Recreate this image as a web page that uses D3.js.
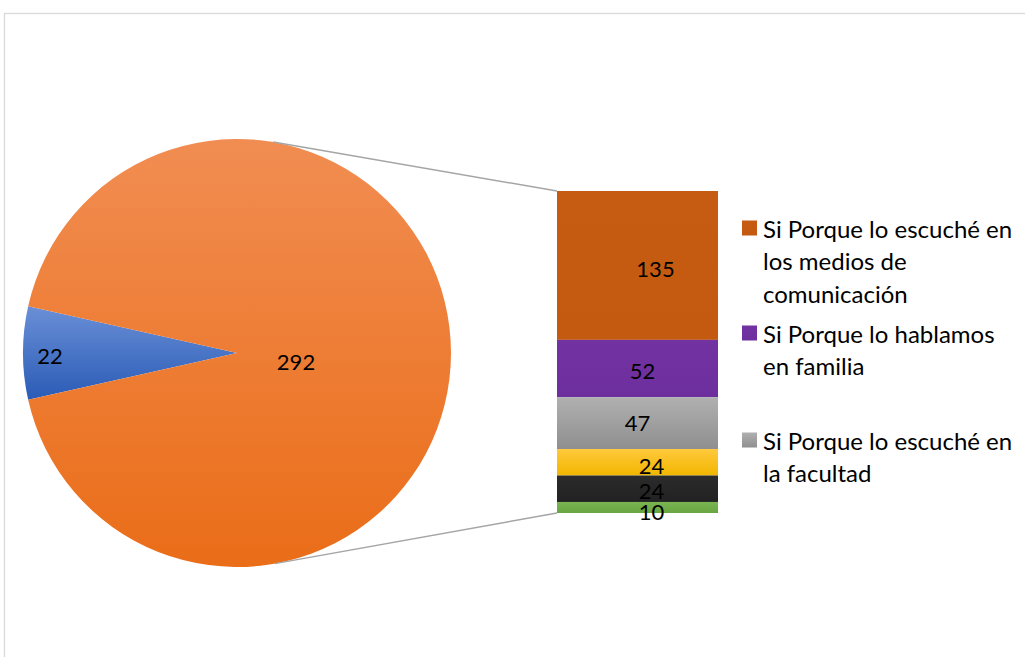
<!DOCTYPE html>
<html>
<head>
<meta charset="utf-8">
<script src="https://cdn.jsdelivr.net/npm/d3@7"></script>
<style>
  html, body { margin: 0; padding: 0; background: #fff; }
  svg { display: block; }
  text { font-family: Lato, "Open Sans", sans-serif; fill: #000; }
</style>
</head>
<body>
<svg id="chart" width="1025" height="657"></svg>
<script>
// Pie: answered "No" vs. the grouped "Si" answers
const pieLabels = ["No", "Si"];
const pieValues = [22, 292];

// Breakdown of the "Si" slice
const barLabels = [
  "Si Porque lo escuché en los medios de comunicación",
  "Si Porque lo hablamos en familia",
  "Si Porque lo escuché en la facultad",
  "Si Porque lo escuché en la radio",
  "Si Porque lo escuché en redes",
  "Si Otro"
];
const barValues = [135, 52, 47, 24, 24, 10];

// Legend lines (only the first three entries are shown)
const legendLines = [
  ["Si Porque lo escuché en", "los medios de", "comunicación"],
  ["Si Porque lo hablamos", "en familia"],
  ["Si Porque lo escuché en", "la facultad"]
];

const svg = d3.select("#chart");
const defs = svg.append("defs");

function vGradient(id, top, bottom) {
  const g = defs.append("linearGradient").attr("id", id)
    .attr("x1", 0).attr("y1", 0).attr("x2", 0).attr("y2", 1);
  g.append("stop").attr("offset", "0%").attr("stop-color", top);
  g.append("stop").attr("offset", "100%").attr("stop-color", bottom);
  return `url(#${id})`;
}

const pieFills = [
  vGradient("gBlue", "#6a8fd6", "#2a5bb6"),
  vGradient("gOrange", "#f18d52", "#ea6d18")
];
const barFills = [
  vGradient("gB0", "#c65b12", "#c45a10"),
  vGradient("gB1", "#7232a2", "#6e2f9e"),
  vGradient("gB2", "#b0b0b0", "#8f8f8f"),
  vGradient("gB3", "#ffc93c", "#f2b600"),
  vGradient("gB4", "#2b2b2b", "#222222"),
  vGradient("gB5", "#7ab551", "#68a53f")
];

// Frame
svg.append("rect")
  .attr("x", 4.5).attr("y", 13.5)
  .attr("width", 1100).attr("height", 700)
  .attr("fill", "none").attr("stroke", "#d9d9d9").attr("stroke-width", 1.3);

// ---- Pie ----
const cx = 237, cy = 353, r = 214;
const total = d3.sum(pieValues);
const firstSpan = pieValues[0] / total * 2 * Math.PI;
const start = 1.5 * Math.PI - firstSpan / 2;

const pie = d3.pie().sort(null).startAngle(start).endAngle(start + 2 * Math.PI);
const arcs = pie(pieValues);
const arc = d3.arc().innerRadius(0).outerRadius(r);

const pg = svg.append("g").attr("transform", `translate(${cx},${cy})`);
pg.selectAll("path").data(arcs).enter().append("path")
  .attr("d", arc)
  .attr("fill", (d, i) => pieFills[i]);

// Pie labels
const pieLabelPos = [[50, 355], [296, 361]];
pg.selectAll("text.pl").data(arcs).enter().append("text")
  .attr("class", "pl")
  .attr("x", (d, i) => pieLabelPos[i][0] - cx)
  .attr("y", (d, i) => pieLabelPos[i][1] - cy)
  .attr("text-anchor", "middle").attr("dominant-baseline", "central")
  .attr("font-size", 22)
  .text(d => d.value);

// ---- Stacked bar ----
const barX0 = 557, barX1 = 718;
const y = d3.scaleLinear().domain([0, d3.sum(barValues)]).range([513, 191]);

let acc = d3.sum(barValues);
const segs = barValues.map((v, i) => {
  const top = acc; acc -= v;
  return { value: v, top: top, bottom: acc, i: i };
});

const bg = svg.append("g");
bg.selectAll("rect").data(segs).enter().append("rect")
  .attr("x", barX0)
  .attr("y", d => y(d.top))
  .attr("width", barX1 - barX0)
  .attr("height", d => y(d.bottom) - y(d.top))
  .attr("fill", d => barFills[d.i]);

// label nudges along x, and vertical adjustments for the thin segments
const labelDx = [18, 5, 0, 14, 14, 14];
const labelDy = [3, 2, -1, 3, 1.5, 4];
bg.selectAll("text").data(segs).enter().append("text")
  .attr("x", d => (barX0 + barX1) / 2 + labelDx[d.i])
  .attr("y", d => (y(d.top) + y(d.bottom)) / 2 + labelDy[d.i])
  .attr("text-anchor", "middle").attr("dominant-baseline", "central")
  .attr("font-size", 22)
  .text(d => d.value);

// ---- Connector lines (tangents from bar corners to the pie) ----
function tangentPoint(px, py, upper) {
  const dx = px - cx, dy = py - cy;
  const d = Math.hypot(dx, dy);
  const base = Math.atan2(dy, dx);
  const off = Math.acos(r / d);
  const a = upper ? base - off : base + off;
  return [cx + r * Math.cos(a), cy + r * Math.sin(a)];
}
const corners = [[barX0, y(d3.sum(barValues)), true], [barX0, y(0), false]];
svg.append("g").selectAll("line").data(corners).enter().append("line")
  .attr("x1", d => tangentPoint(d[0], d[1], d[2])[0])
  .attr("y1", d => tangentPoint(d[0], d[1], d[2])[1])
  .attr("x2", d => d[0]).attr("y2", d => d[1])
  .attr("stroke", "#a5a5a5").attr("stroke-width", 1.5);

// ---- Legend ----
const legendTop = [228, 333, 440];
const lineH = 32.5;
const lg = svg.append("g");
legendLines.forEach((lines, i) => {
  const g = lg.append("g");
  g.append("rect")
    .attr("x", 742).attr("y", legendTop[i] - 7.5)
    .attr("width", 15).attr("height", 15)
    .attr("fill", barFills[i]);
  lines.forEach((t, k) => {
    g.append("text")
      .attr("x", 763)
      .attr("y", legendTop[i] + k * lineH)
      .attr("dominant-baseline", "central")
      .attr("font-size", 24)
      .text(t);
  });
});
</script>
</body>
</html>
